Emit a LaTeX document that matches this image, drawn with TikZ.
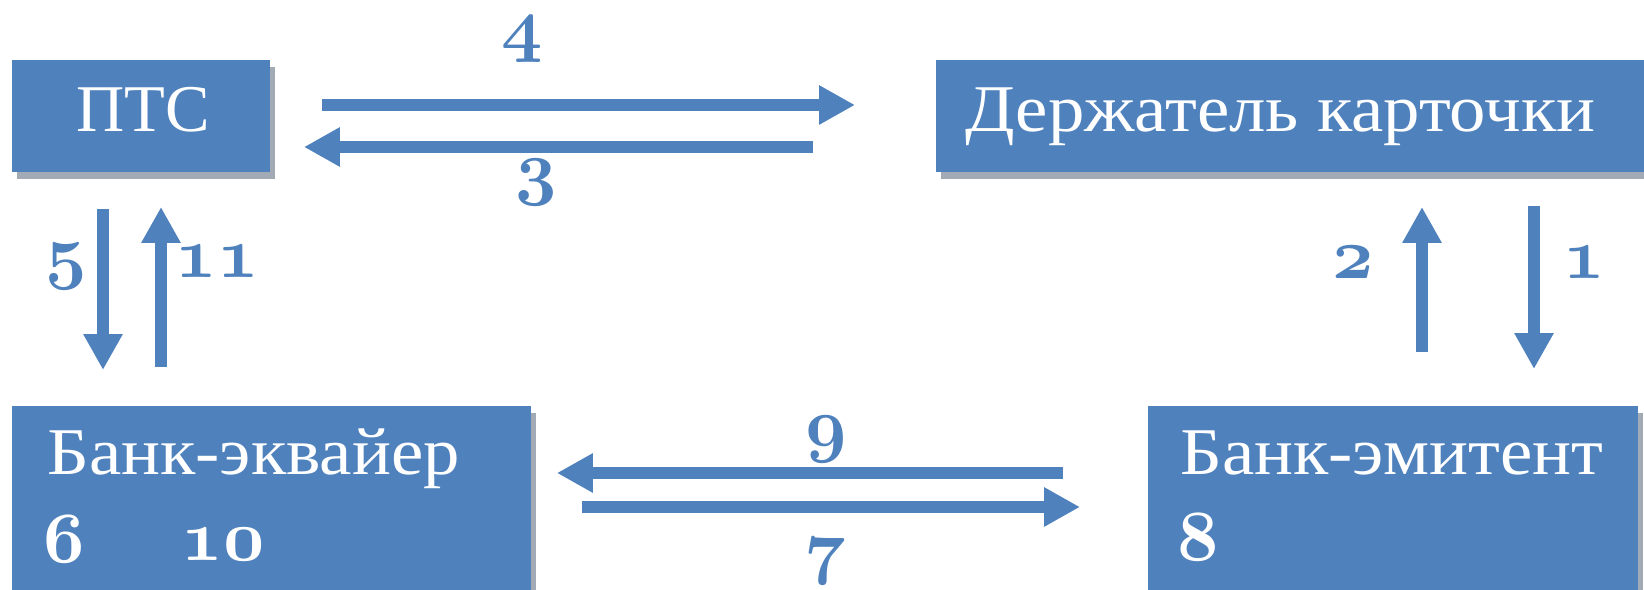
\documentclass[tikz,border=0pt]{standalone}
\usepackage{fix-cm}
\usepackage{fontspec}
\setmainfont[FakeStretch=1.09]{Liberation Serif}
\newfontfamily\ptsfont{Liberation Serif}
\usetikzlibrary{arrows.meta,shadows}
\definecolor{boxblue}{HTML}{4F81BD}
\definecolor{shadowgray}{HTML}{A2AAB6}
\newcommand{\stepnum}[1]{{\usefont{OML}{cmm}{b}{it}#1}} % old-style digits

\begin{document}
\begin{tikzpicture}[x=0.02cm, y=-0.02cm] % 1 unit = 1 px of the scheme
\tikzstyle{mybox} = [rectangle, fill=boxblue, inner sep=0pt, outer sep=0pt, anchor=north west,
  drop shadow={shadow xshift=0.1cm, shadow yshift=-0.14cm, fill=shadowgray, opacity=1}] % participant box
\tikzstyle{boxtext} = [text=white, inner sep=0pt, font=\fontsize{38}{44}\selectfont] % participant name
\tikzstyle{numtext} = [inner sep=0pt, font=\fontsize{41}{46}\selectfont] % step number
\tikzstyle{myarrow} = [draw=boxblue, line width=0.25cm, -{Triangle[width=0.74cm,length=0.72cm]}] % message arrow

\useasboundingbox (0,0) rectangle (1644,590);

% participants
\node[mybox, minimum width=5.16cm, minimum height=2.24cm] (pts) at (12,60) {};
\node[mybox, minimum width=14.28cm, minimum height=2.24cm] (holder) at (936,60) {};
\node[mybox, minimum width=10.38cm, minimum height=3.88cm] (acq) at (12,406) {};
\node[mybox, minimum width=9.8cm, minimum height=3.88cm] (iss) at (1148,406) {};

\node[boxtext, anchor=base] (ptsname) at (143,132) {\ptsfont ПТС};
\node[boxtext, anchor=base west] (holdername) at (965,132) {Держатель карточки};
\node[boxtext, anchor=base west] (acqname) at (47,475) {Банк-эквайер};
\node[boxtext, anchor=base west] (issname) at (1180,475) {Банк-эмитент};
\node[numtext, text=white] (s6) at (64,539) {\stepnum{6}};
\node[numtext, text=white] (s10) at (223,544) {\stepnum{10}};
\node[numtext, text=white] (s8) at (1198,537) {\stepnum{8}};

% messages
\draw[myarrow, shorten <=1.04cm, shorten >=1.62cm] (pts.east |- 0,105) -- (holder.west |- 0,105);
\draw[myarrow, shorten <=2.46cm, shorten >=0.68cm] (holder.west |- 0,147) -- (pts.east |- 0,147);
\draw[myarrow, shorten <=0.74cm, shorten >=0.72cm] (103,0 |- pts.south) -- (103,0 |- acq.north);
\draw[myarrow, shorten <=0.78cm, shorten >=0.70cm] (161,0 |- acq.north) -- (161,0 |- pts.south);
\draw[myarrow, shorten <=1.08cm, shorten >=0.70cm] (1422,0 |- iss.north) -- (1422,0 |- holder.south);
\draw[myarrow, shorten <=0.68cm, shorten >=0.74cm] (1534,0 |- holder.south) -- (1534,0 |- iss.north);
\draw[myarrow, shorten <=1.70cm, shorten >=0.52cm] (iss.west |- 0,473) -- (acq.east |- 0,473);
\draw[myarrow, shorten <=1.02cm, shorten >=1.36cm] (acq.east |- 0,507) -- (iss.west |- 0,507);

% step numbers
\node[numtext, text=boxblue] (s1) at (1584,262) {\stepnum{1}};
\node[numtext, text=boxblue] (s2) at (1353,262) {\stepnum{2}};
\node[numtext, text=boxblue] (s3) at (536,183) {\stepnum{3}};
\node[numtext, text=boxblue] (s4) at (522,40) {\stepnum{4}};
\node[numtext, text=boxblue] (s5) at (66,267) {\stepnum{5}};
\node[numtext, text=boxblue] (s7) at (825,562) {\stepnum{7}};
\node[numtext, text=boxblue] (s9) at (826,440) {\stepnum{9}};
\node[numtext, text=boxblue] (s11) at (217,261) {\stepnum{11}};
\end{tikzpicture}
\end{document}
